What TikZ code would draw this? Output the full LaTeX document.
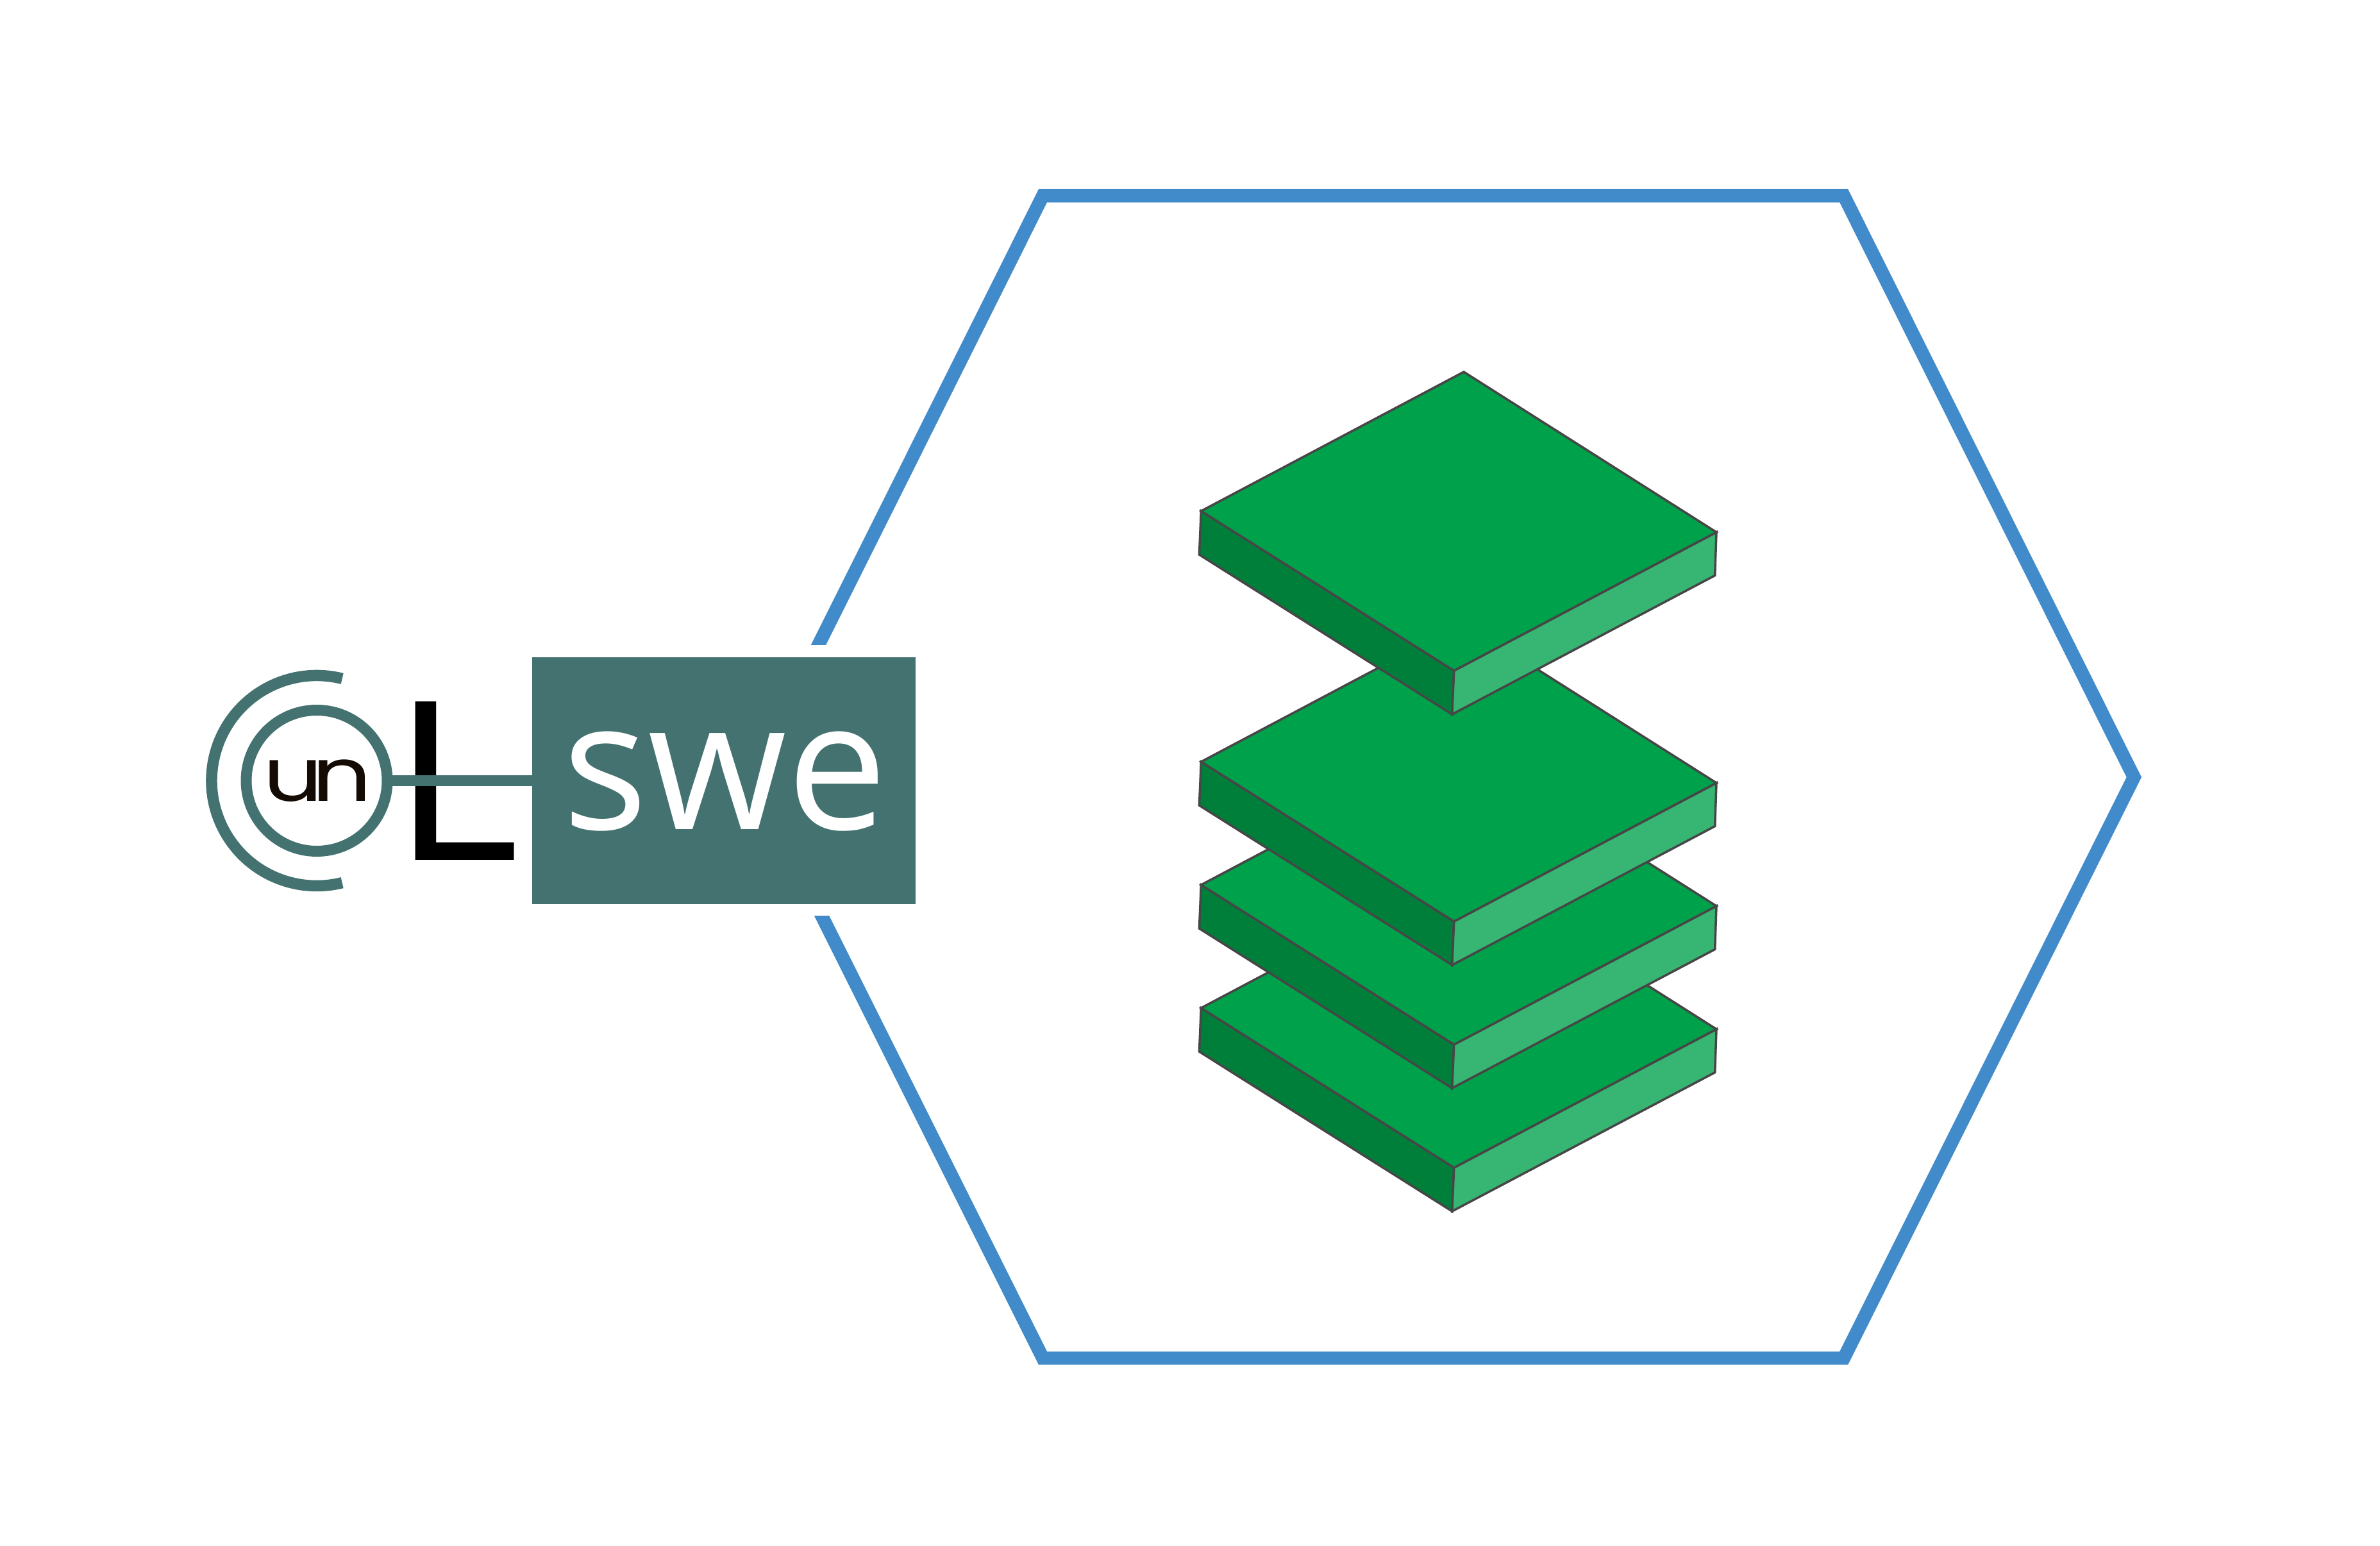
\documentclass[tikz,border=0pt]{standalone}
\usepackage{fontspec}
\newfontfamily\swefont{Open Sans}
\newfontfamily\elfont{Liberation Sans}
\newfontfamily\unfont{Poppins}
\definecolor{hexblue}{RGB}{66,139,202}
\definecolor{logoteal}{RGB}{68,114,112}
\definecolor{unblack}{RGB}{20,12,4}
\definecolor{topgreen}{RGB}{0,161,75}
\definecolor{leftgreen}{RGB}{0,127,59}
\definecolor{rightgreen}{RGB}{55,182,115}
\definecolor{edgegrey}{RGB}{70,70,70}
\tikzset{
  plateface/.style={draw=edgegrey,line width=1pt},
  logonode/.style={inner sep=0pt,outer sep=0pt},
}
\begin{document}
\begin{tikzpicture}
      \useasboundingbox (0,0) rectangle (37.12,24.10);
      % Hexagon, cut open on the left
      \draw[hexblue,line width=5.95pt] (16.265,21.047) -- (28.757,21.047) -- (33.283,11.98)
        -- (28.757,2.92) -- (16.265,2.92) -- (11.735,11.98) -- cycle;
      \fill[white] (11,9.82) rectangle (14.5,14.044);

      % The four plates, lowest first
      \foreach \y in {-7.75,-5.83,-3.91,0}{
        \begin{scope}[yshift=\y cm]
          \draw[plateface,fill=leftgreen] (18.733,16.13) -- (22.677,13.64)
            -- (22.648,12.96) -- (18.704,15.45) -- cycle;
          \draw[plateface,fill=rightgreen] (26.77,15.80) -- (22.677,13.64)
            -- (22.648,12.96) -- (26.747,15.125) -- cycle;
          \draw[plateface,fill=topgreen] (22.83,18.30) -- (26.77,15.80)
            -- (22.677,13.64) -- (18.733,16.13) -- cycle;
        \end{scope}
      }

      % Logo box and its text
      \node[logonode,fill=logoteal,minimum width=5.977cm,minimum height=3.85cm] (box) at (11.29,11.925) {};
      \node[logonode,white,anchor=base,xscale=0.995] (swe) at (11.31,11.163)
        {\swefont\fontsize{79.7}{80}\selectfont swe};

      % Logo L
      \node[logonode,black,anchor=base west,yscale=1.03] (el) at (6.19,10.68)
        {\elfont\fontsize{99.3}{100}\selectfont L};

      % Logo rings
      \node[logonode,circle,draw=logoteal,line width=0.17cm,minimum size=2.2cm] (ring) at (4.94,11.925) {};
      \draw[logoteal,line width=0.175cm] (ring.center) ++(76:1.64)
        arc[start angle=76,end angle=284,radius=1.64];
      \node[logonode,unblack,anchor=base,xscale=1.26] (un) at (4.95,11.60)
        {\unfont\fontsize{33}{35}\selectfont u\kern-3.9pt n};

      % Link between ring and box
      \draw[logoteal,line width=0.167cm] (ring.east) -- (box.west);
    \end{tikzpicture}
\end{document}
